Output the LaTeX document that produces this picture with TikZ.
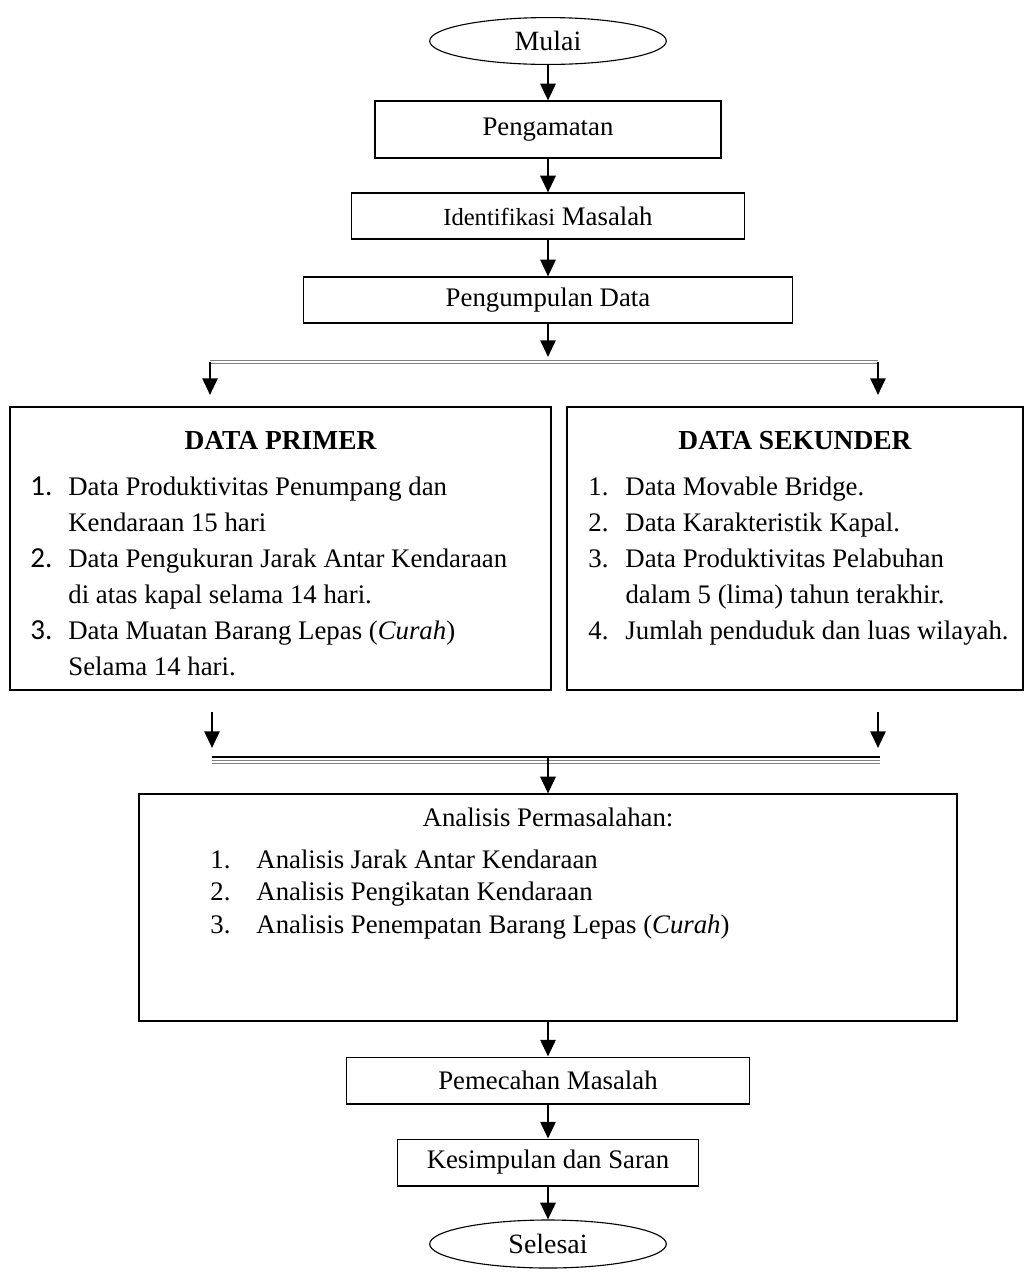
\documentclass[tikz,border=0pt]{standalone}
\usepackage{fontspec}
\setmainfont{Liberation Serif}
\newfontfamily\numfont{Carlito}
\usetikzlibrary{shapes.geometric, arrows.meta, positioning}
\tikzset{
  block/.style = {rectangle, draw, line width=0.5pt, inner sep=0pt, align=center},
  term/.style  = {ellipse, draw, line width=0.5pt, inner sep=0pt,
                  minimum width=106pt, minimum height=21pt},
  arrow/.style = {line width=1.1pt, -{Triangle[length=7.5pt, width=6.8pt]}},
  dline/.style = {draw=gray, line width=0.45pt, double=white, double distance=1.3pt},
  list/.style  = {anchor=north west, inner sep=0pt, align=left},
  judul/.style = {anchor=base, inner sep=0pt, font=\fontsize{12.3}{16.1}\selectfont\bfseries},
}

\begin{document}
\begin{tikzpicture}[x=0.448pt, y=-0.448pt, every node/.style={font=\fontsize{12}{16.1}\selectfont}]
    \useasboundingbox (0,0) rectangle (1024,1274);

    %% Alur atas
    \node[term, font=\fontsize{12.5}{16}\selectfont] (mulai) at (548,41) {Mulai};
    \node[block, minimum width=155pt, minimum height=25.5pt] (amat)   at (548,129.5) {Pengamatan};
    \node[block, minimum width=176pt, minimum height=20.6pt] (ident)  at (548,216)   {{\fontsize{11}{14}\selectfont Identifikasi} Masalah};
    \node[block, minimum width=219pt, minimum height=20.6pt] (kumpul) at (548,300)   {Pengumpulan Data};

    \draw[arrow] (mulai) -- (amat);
    \draw[arrow] (amat)  -- (ident);
    \draw[arrow] (ident) -- (kumpul);

    %% Percabangan data
    \coordinate (cabang) at (548,357);
    \coordinate (kiri)   at (210,362);
    \coordinate (kanan)  at (878,362);
    \coordinate (kiriB)  at (210,395);
    \coordinate (kananB) at (878,395);
    \draw[arrow] (kumpul) -- (cabang);
    \draw[dline] (kiri) -- (kanan);
    \draw[arrow] (kiri)  -- (kiriB);
    \draw[arrow] (kanan) -- (kananB);

    %% Data primer
    \node[block, minimum width=242.4pt, minimum height=126.8pt] (primer) at (280.5,548.5) {};
    \node[judul] (judulP) at (280.5,449) {DATA PRIMER};
    \node[list] (isiP) at (30,470) {%
      \begin{tabular}{@{}p{17pt}@{}l@{}}
        {\numfont\fontsize{13}{16.1}\selectfont 1.} & Data Produktivitas Penumpang dan\\
          & Kendaraan 15 hari\\
        {\numfont\fontsize{13}{16.1}\selectfont 2.} & Data Pengukuran Jarak Antar Kendaraan\\
          & di atas kapal selama 14 hari.\\
        {\numfont\fontsize{13}{16.1}\selectfont 3.} & Data Muatan Barang Lepas (\textit{Curah})\\
          & Selama 14 hari.
      \end{tabular}};

    %% Data sekunder
    \node[block, minimum width=204.3pt, minimum height=126.8pt] (sekunder) at (795,548.5) {};
    \node[judul] (judulS) at (795,449) {DATA SEKUNDER};
    \node[list] (isiS) at (588,470) {%
      \begin{tabular}{@{}p{16.6pt}@{}l@{}}
        1. & Data Movable Bridge.\\
        2. & Data Karakteristik Kapal.\\
        3. & Data Produktivitas Pelabuhan\\
           & dalam 5 (lima) tahun terakhir.\\
        4. & Jumlah penduduk dan luas wilayah.
      \end{tabular}};

    %% Penggabungan
    \coordinate (kiriC)   at (212,712);
    \coordinate (kiriD)   at (212,748);
    \coordinate (kananC)  at (878,712);
    \coordinate (kananD)  at (878,748);
    \coordinate (gabungL) at (212,757);
    \coordinate (gabungR) at (880,757);
    \coordinate (garisL)  at (212,762);
    \coordinate (garisR)  at (880,762);
    \coordinate (gabung)  at (548,757);
    \draw[arrow] (kiriC)  -- (kiriD);
    \draw[arrow] (kananC) -- (kananD);
    \draw[line width=0.6pt] (gabungL) -- (gabungR);
    \draw[dline] (garisL) -- (garisR);

    %% Analisis
    \node[block, minimum width=366.5pt, minimum height=101.7pt] (analisis) at (548,907.5) {};
    \node[anchor=base, inner sep=0pt] (judulA) at (548,826) {Analisis Permasalahan:};
    \node[list, font=\fontsize{12}{14.6}\selectfont] (isiA) at (210,845) {%
      \begin{tabular}{@{}p{20.6pt}@{}l@{}}
        1. & Analisis Jarak Antar Kendaraan\\
        2. & Analisis Pengikatan Kendaraan\\
        3. & Analisis Penempatan Barang Lepas (\textit{Curah})
      \end{tabular}};
    \draw[arrow] (gabung) -- (analisis);

    %% Alur bawah
    \node[block, minimum width=180.5pt, minimum height=21pt] (pecah)  at (548,1080.5) {Pemecahan Masalah};
    \node[block, minimum width=135pt,   minimum height=21pt] (simpul) at (548,1162.5) {Kesimpulan dan Saran};
    \node[term, minimum height=21.5pt, font=\fontsize{12.5}{16}\selectfont] (selesai) at (548,1244) {Selesai};

    \draw[arrow] (analisis) -- (pecah);
    \draw[arrow] (pecah)    -- (simpul);
    \draw[arrow] (simpul)   -- (selesai);

\end{tikzpicture}
\end{document}
